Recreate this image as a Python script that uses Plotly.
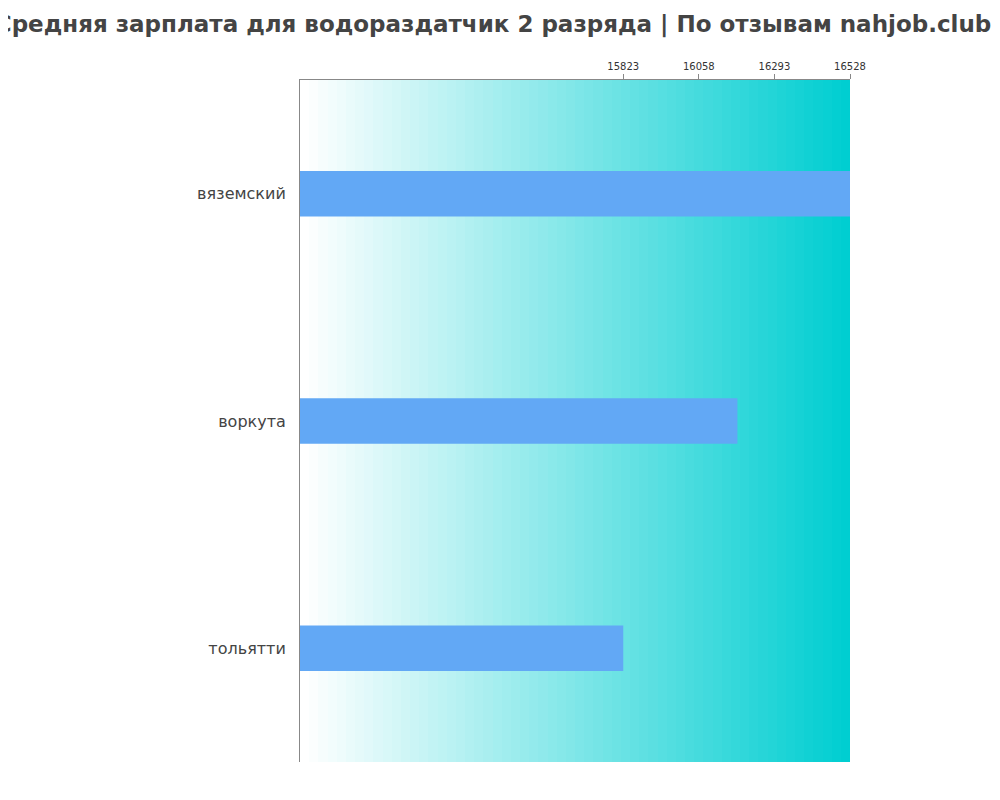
import numpy as np
import plotly.graph_objects as go

cities = ["вяземский", "воркута", "тольятти"]
salaries = [16528, 16178, 15823]
tick_vals = [15823, 16058, 16293, 16528]
x_min = 14818

ypos = [0, 1, 2]

# background gradient (white -> turquoise) drawn as a heatmap strip
edges = np.linspace(x_min, tick_vals[-1], 61)
grad = go.Heatmap(
    x=edges, y=[-0.5, 2.5], z=[list(range(60))],
    colorscale=[[0, "#ffffff"], [1, "#00CED1"]],
    showscale=False, hoverinfo="skip",
)

bars = go.Bar(
    x=[s - x_min for s in salaries], base=x_min, y=ypos, orientation="h",
    width=0.2, marker=dict(color="#62A8F5", line=dict(width=0)),
)

fig = go.Figure([grad, bars])
fig.update_layout(
    width=1000, height=800,
    margin=dict(l=292, r=158, t=72, b=46),
    plot_bgcolor="white", paper_bgcolor="white",
    showlegend=False,
    title=dict(text="Средняя зарплата для водораздатчик 2 разряда | По отзывам nahjob.club",
               xref="container", x=0.485, xanchor="center", y=0.99, yanchor="top",
               font=dict(family="DejaVu Sans", size=23, color="#444444", weight="bold")),
    font=dict(family="DejaVu Sans", color="#444444"),
)
fig.update_xaxes(side="top", range=[x_min, tick_vals[-1]], tickvals=tick_vals, tickformat="d",
                 ticks="outside", ticklen=5, tickcolor="#888", tickfont=dict(size=10, color="#333"),
                 showgrid=False, showline=True, linecolor="#888", zeroline=False)
fig.update_yaxes(range=[2.5, -0.5], tickvals=ypos, ticktext=cities,
                 tickfont=dict(size=16, color="#444"), ticks="", ticklabelstandoff=10,
                 showgrid=False, showline=True, linecolor="#888", zeroline=False)
fig.write_html("out.html")
